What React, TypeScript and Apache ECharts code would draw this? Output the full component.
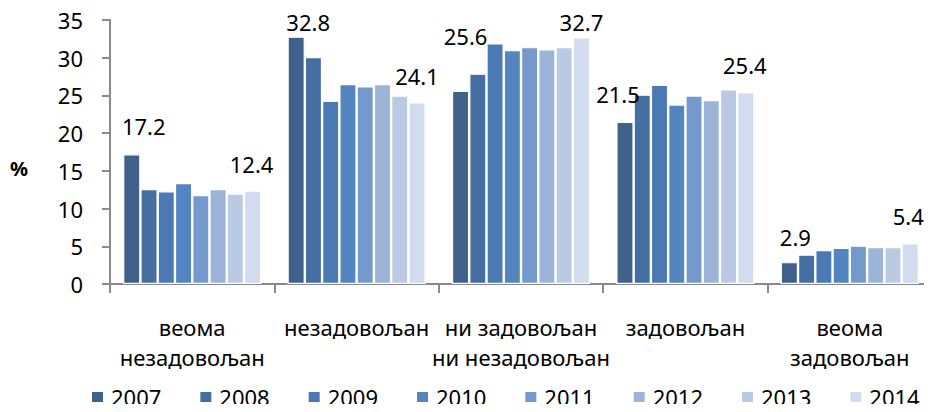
import React, { useEffect, useRef } from "react";
import * as echarts from "echarts";

const categories = [
  "веома\nнезадовољан",
  "незадовољан",
  "ни задовољан\nни незадовољан",
  "задовољан",
  "веома\nзадовољан",
];

const years = ["2007", "2008", "2009", "2010", "2011", "2012", "2013", "2014"];

const v2007 = [17.2, 32.8, 25.6, 21.5, 2.9];
const v2008 = [12.6, 30.1, 27.9, 25.1, 3.9];
const v2009 = [12.3, 24.3, 31.9, 26.4, 4.5];
const v2010 = [13.4, 26.5, 31.0, 23.8, 4.8];
const v2011 = [11.8, 26.2, 31.4, 25.0, 5.1];
const v2012 = [12.6, 26.5, 31.1, 24.4, 4.9];
const v2013 = [12.0, 25.0, 31.4, 25.8, 4.9];
const v2014 = [12.4, 24.1, 32.7, 25.4, 5.4];

const seriesValues = [v2007, v2008, v2009, v2010, v2011, v2012, v2013, v2014];

const yTicks = { min: 0, max: 35, interval: 5 };

const colors = [
  "#3F618C",
  "#456FA2",
  "#4B79B4",
  "#5485C1",
  "#7399CD",
  "#9CB4DA",
  "#BACAE4",
  "#D3DCEE",
];

// label offsets (style only) for labelled series
const labelOffsets2007 = [
  [12, -12],
  [12, 1],
  [5, -39],
  [-7, -12],
  [6, -9],
];
const labelOffsets2014 = [
  [-1, -10],
  [0, -10],
  [0, 1],
  [-1, -11],
  [-2, -11],
];

const FONT = "'Noto Sans', 'DejaVu Sans', sans-serif";

export default function App() {
  const ref = useRef<HTMLDivElement>(null);

  useEffect(() => {
    if (!ref.current) return;
    const chart = echarts.init(ref.current, undefined, { renderer: "svg" });

    const series = years.map((y, i) => {
      const vals = seriesValues[i];
      let data: any[] = vals;
      if (i === 0 || i === years.length - 1) {
        const offs = i === 0 ? labelOffsets2007 : labelOffsets2014;
        data = vals.map((v, k) => ({
          value: v,
          label: {
            show: true,
            position: "top",
            distance: 5,
            offset: offs[k],
            formatter: (p: any) => Number(p.value).toFixed(1),
            color: "#000",
            fontSize: 22,
            fontFamily: FONT,
          },
        }));
      }
      return {
        name: y,
        type: "bar",
        data,
        barGap: "0%",
        barCategoryGap: "16%",
        itemStyle: {
          color: colors[i],
          borderColor: "#ffffff",
          borderWidth: 1.2,
        },
      };
    });

    chart.setOption({
      animation: false,
      backgroundColor: "#ffffff",
      grid: { left: 110, right: -4, top: 20, bottom: 128, containLabel: false },
      legend: {
        data: years,
        left: 90,
        bottom: 0,
        width: 880,
        padding: [0, 0, 4, 0],
        itemWidth: 13,
        itemHeight: 12,
        itemGap: 37,
        icon: "rect",
        textStyle: {
          color: "#000",
          fontSize: 22,
          lineHeight: 22,
          fontFamily: FONT,
          padding: [0, 0, 0, 2],
        },
      },
      xAxis: {
        type: "category",
        data: categories,
        axisLine: { lineStyle: { color: "#8A8A8A", width: 2 } },
        axisTick: { show: true, interval: 0, length: 9, lineStyle: { color: "#8A8A8A", width: 2 } },
        axisLabel: {
          interval: 0,
          margin: 28,
          color: "#000",
          fontSize: 22,
          lineHeight: 30,
          fontFamily: FONT,
        },
      },
      yAxis: {
        type: "value",
        min: yTicks.min,
        max: yTicks.max,
        interval: yTicks.interval,
        axisLine: { show: true, lineStyle: { color: "#8A8A8A", width: 2 } },
        axisTick: { show: true, length: 8, lineStyle: { color: "#8A8A8A", width: 2 } },
        splitLine: { show: false },
        axisLabel: {
          margin: 27,
          color: "#000",
          fontSize: 22,
          fontFamily: FONT,
        },
      },
      graphic: [
        {
          type: "text",
          left: 10,
          top: 158,
          style: {
            text: "%",
            fontSize: 20,
            fontWeight: "bold",
            fill: "#000",
            fontFamily: FONT,
          },
        },
      ],
      series,
    });

    return () => chart.dispose();
  }, []);

  return <div ref={ref} style={{ width: 932, height: 412, margin: -8 }} />;
}
